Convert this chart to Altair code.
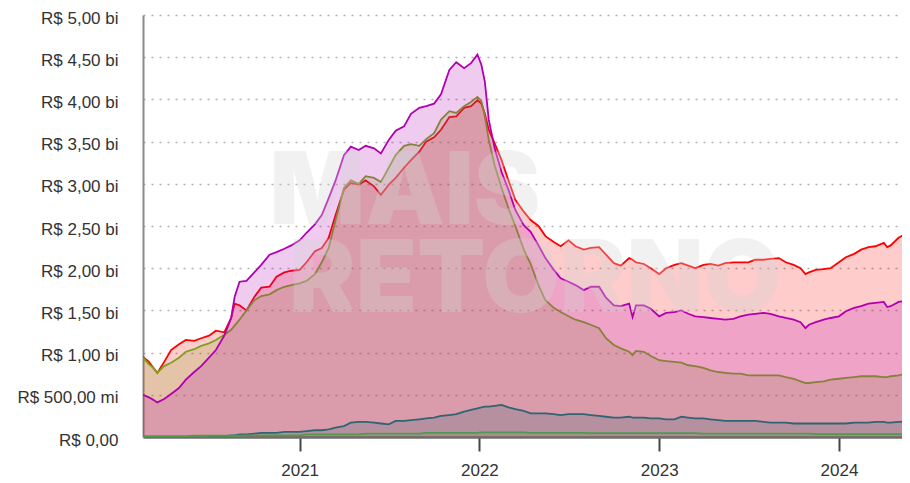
import altair as alt
import pandas as pd

dates = [
    "2020-02-18", "2020-03-01", "2020-03-10", "2020-03-18", "2020-04-01", "2020-04-15",
    "2020-05-01", "2020-05-15", "2020-06-01", "2020-06-15", "2020-07-01", "2020-07-15",
    "2020-08-01", "2020-08-15", "2020-08-22", "2020-09-01", "2020-09-15", "2020-10-01",
    "2020-10-15", "2020-11-01", "2020-11-15", "2020-12-01", "2020-12-15", "2021-01-01",
    "2021-01-15", "2021-02-01", "2021-02-15", "2021-03-01", "2021-03-15", "2021-04-01",
    "2021-04-15", "2021-05-01", "2021-05-15", "2021-06-01", "2021-06-15", "2021-07-01",
    "2021-07-15", "2021-08-01", "2021-08-15", "2021-09-01", "2021-09-15", "2021-10-01",
    "2021-10-15", "2021-11-01", "2021-11-15", "2021-12-01", "2021-12-15", "2021-12-28",
    "2022-01-05", "2022-01-12", "2022-01-20", "2022-02-01", "2022-02-15", "2022-03-01",
    "2022-03-15", "2022-04-01", "2022-04-15", "2022-05-01", "2022-05-15", "2022-06-01",
    "2022-06-15", "2022-07-01", "2022-07-15", "2022-08-01", "2022-08-15", "2022-09-01",
    "2022-09-15", "2022-10-01", "2022-10-15", "2022-11-01", "2022-11-08", "2022-11-15",
    "2022-12-01", "2022-12-15", "2023-01-01", "2023-01-15", "2023-02-01", "2023-02-15",
    "2023-03-01", "2023-03-15", "2023-04-01", "2023-04-15", "2023-05-01", "2023-05-15",
    "2023-06-01", "2023-06-15", "2023-07-01", "2023-07-15", "2023-08-01", "2023-08-15",
    "2023-09-01", "2023-09-15", "2023-10-01", "2023-10-15", "2023-10-25", "2023-11-01",
    "2023-11-15", "2023-12-01", "2023-12-15", "2024-01-01", "2024-01-15", "2024-02-01",
    "2024-02-15", "2024-03-01", "2024-03-15", "2024-04-01", "2024-04-08", "2024-04-15",
    "2024-05-01", "2024-05-24",
]

# values in R$ billions
red = [
    0.95, 0.89, 0.82, 0.76, 0.89, 1.03, 1.10, 1.15, 1.14, 1.17, 1.20, 1.26,
    1.24, 1.41, 1.58, 1.56, 1.50, 1.66, 1.77, 1.78, 1.90, 1.95, 1.97, 1.98,
    2.07, 2.20, 2.24, 2.36, 2.63, 2.93, 3.01, 2.99, 3.04, 2.97, 2.87, 2.99,
    3.07, 3.19, 3.28, 3.38, 3.50, 3.55, 3.64, 3.79, 3.80, 3.90, 3.92, 3.99,
    3.95, 3.83, 3.64, 3.48, 3.28, 3.04, 2.81, 2.67, 2.57, 2.50, 2.38, 2.31,
    2.26, 2.33, 2.26, 2.22, 2.24, 2.25, 2.16, 2.06, 2.03, 2.12, 2.10, 2.07,
    2.05, 2.00, 1.93, 2.00, 2.04, 2.06, 2.03, 2.00, 2.04, 2.05, 2.03, 2.06,
    2.07, 2.07, 2.07, 2.10, 2.10, 2.11, 2.12, 2.07, 2.04, 2.00, 1.93, 1.95,
    1.98, 1.99, 2.00, 2.07, 2.13, 2.17, 2.22, 2.25, 2.26, 2.30, 2.25, 2.27,
    2.36, 2.44,
]

purple = [
    0.50, 0.47, 0.44, 0.41, 0.45, 0.51, 0.58, 0.68, 0.77, 0.84, 0.94, 1.03,
    1.20, 1.41, 1.66, 1.84, 1.85, 1.95, 2.04, 2.16, 2.19, 2.23, 2.27, 2.33,
    2.42, 2.52, 2.63, 2.83, 3.04, 3.34, 3.44, 3.40, 3.45, 3.42, 3.36, 3.52,
    3.63, 3.68, 3.83, 3.90, 3.92, 3.95, 4.06, 4.35, 4.44, 4.37, 4.43, 4.53,
    4.41, 4.21, 3.76, 3.42, 3.14, 2.93, 2.69, 2.51, 2.43, 2.27, 2.12, 1.98,
    1.88, 1.84, 1.80, 1.74, 1.78, 1.78, 1.65, 1.56, 1.55, 1.58, 1.42, 1.56,
    1.56, 1.52, 1.43, 1.47, 1.48, 1.50, 1.46, 1.43, 1.42, 1.41, 1.40, 1.39,
    1.40, 1.43, 1.45, 1.46, 1.47, 1.46, 1.43, 1.41, 1.39, 1.36, 1.29, 1.33,
    1.36, 1.39, 1.41, 1.43, 1.49, 1.53, 1.55, 1.58, 1.59, 1.60, 1.54, 1.55,
    1.60, 1.62,
]

olive = [
    0.94, 0.86, 0.82, 0.76, 0.84, 0.88, 0.94, 1.01, 1.04, 1.08, 1.11, 1.15,
    1.21, 1.27, 1.32, 1.39, 1.50, 1.62, 1.67, 1.69, 1.74, 1.78, 1.80, 1.82,
    1.85, 1.93, 2.07, 2.24, 2.57, 2.95, 3.04, 3.00, 3.09, 3.07, 3.02, 3.19,
    3.34, 3.45, 3.47, 3.45, 3.53, 3.60, 3.76, 3.86, 3.84, 3.92, 3.97, 4.03,
    3.98, 3.80, 3.52, 3.22, 2.95, 2.71, 2.50, 2.22, 2.05, 1.80, 1.62, 1.53,
    1.48, 1.43, 1.39, 1.36, 1.33, 1.29, 1.17, 1.09, 1.05, 1.01, 0.97, 1.02,
    1.01, 0.96, 0.91, 0.90, 0.89, 0.88, 0.85, 0.84, 0.82, 0.79, 0.77, 0.76,
    0.75, 0.75, 0.73, 0.73, 0.73, 0.73, 0.73, 0.71, 0.69, 0.66, 0.64, 0.64,
    0.65, 0.66, 0.68, 0.69, 0.70, 0.71, 0.72, 0.72, 0.72, 0.71, 0.71, 0.72,
    0.73, 0.76,
]

teal = [
    None, None, None, None, None, None, None, None, None, None, 0.00, 0.01,
    0.01, 0.02, 0.02, 0.03, 0.03, 0.04, 0.05, 0.05, 0.05, 0.06, 0.06, 0.06,
    0.07, 0.08, 0.08, 0.09, 0.11, 0.13, 0.17, 0.18, 0.18, 0.17, 0.16, 0.15,
    0.19, 0.19, 0.20, 0.21, 0.22, 0.23, 0.25, 0.26, 0.27, 0.30, 0.32, 0.34,
    0.35, 0.36, 0.36, 0.37, 0.38, 0.35, 0.33, 0.31, 0.28, 0.28, 0.28, 0.27,
    0.26, 0.27, 0.27, 0.27, 0.26, 0.25, 0.24, 0.23, 0.23, 0.24, 0.23, 0.23,
    0.23, 0.22, 0.22, 0.21, 0.21, 0.24, 0.23, 0.22, 0.22, 0.21, 0.20, 0.19,
    0.19, 0.19, 0.19, 0.19, 0.18, 0.17, 0.17, 0.17, 0.16, 0.16, 0.16, 0.16,
    0.16, 0.16, 0.16, 0.16, 0.16, 0.17, 0.17, 0.17, 0.18, 0.18, 0.17, 0.17,
    0.18, 0.18,
]

green = [
    0.010, 0.010, 0.010, 0.010, 0.010, 0.010, 0.010, 0.010, 0.015, 0.015, 0.015, 0.015,
    0.015, 0.015, 0.015, 0.015, 0.020, 0.020, 0.020, 0.020, 0.020, 0.020, 0.020, 0.020,
    0.030, 0.030, 0.030, 0.030, 0.030, 0.030, 0.030, 0.030, 0.040, 0.040, 0.040, 0.040,
    0.040, 0.040, 0.040, 0.040, 0.050, 0.050, 0.050, 0.050, 0.050, 0.050, 0.050, 0.050,
    0.055, 0.055, 0.055, 0.055, 0.055, 0.055, 0.055, 0.055, 0.050, 0.050, 0.050, 0.050,
    0.050, 0.050, 0.050, 0.050, 0.045, 0.045, 0.045, 0.045, 0.045, 0.045, 0.045, 0.045,
    0.045, 0.045, 0.045, 0.045, 0.045, 0.045, 0.045, 0.045, 0.040, 0.040, 0.040, 0.040,
    0.040, 0.040, 0.040, 0.040, 0.040, 0.040, 0.040, 0.040, 0.040, 0.040, 0.040, 0.040,
    0.035, 0.035, 0.035, 0.035, 0.035, 0.035, 0.035, 0.035, 0.035, 0.035, 0.035, 0.035,
    0.035, 0.035,
]

y_ticks = [0, 0.5, 1, 1.5, 2, 2.5, 3, 3.5, 4, 4.5, 5]
x_years = [2021, 2022, 2023, 2024]

series = [
    ("red", "#ff0000"),
    ("olive", "#7ea21e"),
    ("purple", "#b000b0"),
    ("teal", "#2f6474"),
    ("green", "#4f9a4f"),
]

df = pd.DataFrame({
    "date": dates, "red": red, "purple": purple, "olive": olive,
    "teal": teal, "green": green,
})

FONT = "Liberation Sans"

x_scale = alt.Scale(
    type="utc",
    domain=[alt.DateTime(year=2020, month=2, date=18, utc=True),
            alt.DateTime(year=2024, month=5, date=8, utc=True)],
)
x_axis = alt.Axis(
    values=[alt.DateTime(year=y, month=1, date=1, utc=True) for y in x_years],
    format="%Y", grid=False, domainColor="#6e6e6e", domainWidth=2.5,
    tickColor="#444444", tickWidth=2, tickSize=14, labelPadding=11,
    labelFont=FONT, labelFontSize=17, labelColor="#333333", title=None,
)
y_scale = alt.Scale(domain=[0, 5], nice=False)
y_axis = alt.Axis(
    values=y_ticks,
    labelExpr=("datum.value == 0 ? 'R$ 0,00' : (datum.value < 1 ? "
               "'R$ ' + replace(format(datum.value * 1000, '.2f'), '.', ',') + ' mi' : "
               "'R$ ' + replace(format(datum.value, '.2f'), '.', ',') + ' bi')"),
    grid=True, gridDash=[2, 6], gridColor="#b0b0b0", gridWidth=1.5,
    domainColor="#8a8a8a", domainWidth=2, ticks=False, labelPadding=25,
    labelOffset=3,
    labelFont=FONT, labelFontSize=17, labelColor="#333333", title=None,
)

base = alt.Chart(df)
layers = []
for name, color in series:
    xe = alt.X("date:T", scale=x_scale, axis=x_axis, title=None)
    ye = alt.Y(f"{name}:Q", scale=y_scale, axis=y_axis, title=None)
    layers.append(base.mark_area(color=color, opacity=0.2, clip=True).encode(x=xe, y=ye))
    layers.append(base.mark_line(color=color, strokeWidth=1.8, clip=True).encode(x=xe, y=ye))

wm_style = dict(font="Inter", fontSize=100, fontWeight=900, color="#d4d4d4",
                opacity=0.32, align="center", baseline="alphabetic")
wm1 = alt.Chart(pd.DataFrame({"t": ["MAIS"]})).mark_text(**wm_style).encode(
    text="t:N", x=alt.value(262), y=alt.value(209))
wm2 = alt.Chart(pd.DataFrame({"t": ["RETORNO"]})).mark_text(**wm_style).encode(
    text="t:N", x=alt.value(392), y=alt.value(297))

chart = alt.layer(*layers, wm1, wm2).properties(
    width=759, height=422,
    autosize=alt.AutoSizeParams(type="none"),
    padding={"left": 135, "top": 7, "right": 0, "bottom": 46},
).configure_view(stroke=None)

chart.save("out.html", embed_options={"renderer": "svg", "actions": False})
